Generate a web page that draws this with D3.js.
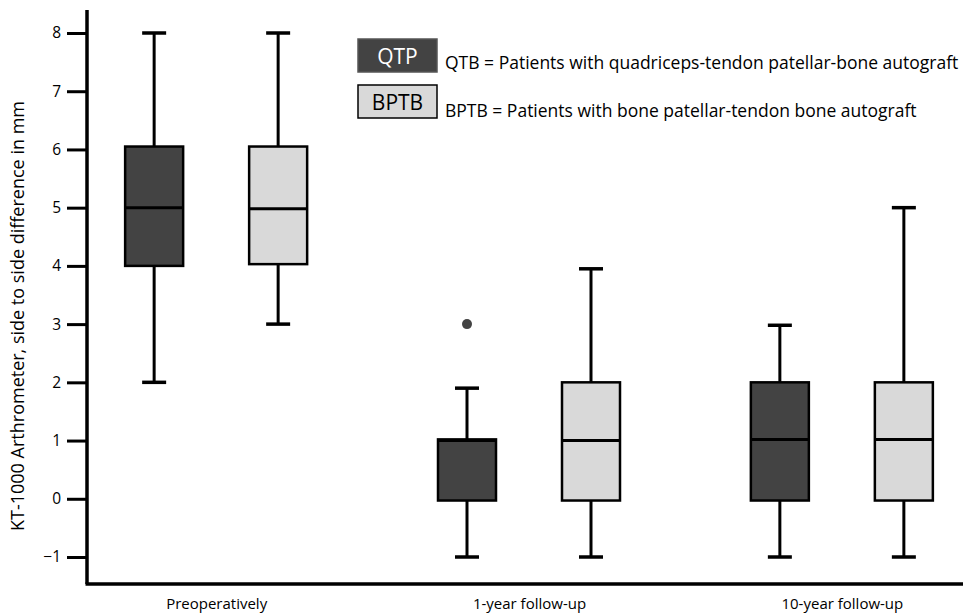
<!DOCTYPE html>
<html>
<head>
<meta charset="utf-8">
<script src="https://cdn.jsdelivr.net/npm/d3@7"></script>
<style>
  body { margin: 0; background: #fff; }
  text { font-family: "Open Sans", Lato, sans-serif; }
</style>
</head>
<body>
<div id="chart"></div>
<script>
// data
var timepoints = ["Preoperatively", "1-year follow-up", "10-year follow-up"];
var groups = ["QTP", "BPTB"];
var yTicks = [-1, 0, 1, 2, 3, 4, 5, 6, 7, 8];

// [min, q1, median, q3, max] per timepoint, per group
var qtpStats = [
  [2, 4, 5, 6.05, 8],
  [-1, -0.03, 1.0, 1.02, 1.9],
  [-1, -0.03, 1.02, 2, 2.98]
];
var bptbStats = [
  [3, 4.03, 4.98, 6.05, 8],
  [-1, -0.03, 1, 2, 3.95],
  [-1, -0.03, 1.02, 2, 5]
];
var qtpOutliers = [[], [3], []];
var bptbOutliers = [[], [], []];

var legendText = [
  "QTB = Patients with quadriceps-tendon patellar-bone autograft",
  "BPTB = Patients with bone patellar-tendon bone autograft"
];

var colors = { QTP: "#434343", BPTB: "#d9d9d9" };

var width = 963, height = 616;
var marginLeft = 87, plotTop = 10, plotBottom = 584;

var svg = d3.select("#chart")
  .append("svg")
  .attr("width", width)
  .attr("height", height);

var y = d3.scaleLinear()
  .domain([-1, 8])
  .range([557, 33]);

var x = d3.scalePoint()
  .domain(timepoints)
  .range([marginLeft + 4, width + 4])
  .padding(0.4);

var xInner = d3.scalePoint()
  .domain(groups)
  .range([-62, 62]);

var boxW = 58, capW = 24;

var boxes = [];
timepoints.forEach(function(t, i) {
  boxes.push({ t: t, g: "QTP", s: qtpStats[i], out: qtpOutliers[i] });
  boxes.push({ t: t, g: "BPTB", s: bptbStats[i], out: bptbOutliers[i] });
});

var bx = svg.selectAll("g.box")
  .data(boxes)
  .enter().append("g")
  .attr("class", "box")
  .attr("transform", function(d) { return "translate(" + (x(d.t) + xInner(d.g)) + ",0)"; });

// whiskers
bx.append("line")
  .attr("x1", 0).attr("x2", 0)
  .attr("y1", function(d) { return y(d.s[4]); })
  .attr("y2", function(d) { return y(d.s[3]); })
  .attr("stroke", "#000").attr("stroke-width", 3);
bx.append("line")
  .attr("x1", 0).attr("x2", 0)
  .attr("y1", function(d) { return y(d.s[1]); })
  .attr("y2", function(d) { return y(d.s[0]); })
  .attr("stroke", "#000").attr("stroke-width", 3);
// caps
bx.selectAll("line.cap")
  .data(function(d) { return [d.s[0], d.s[4]]; })
  .enter().append("line")
  .attr("class", "cap")
  .attr("x1", -capW / 2).attr("x2", capW / 2)
  .attr("y1", function(v) { return y(v); })
  .attr("y2", function(v) { return y(v); })
  .attr("stroke", "#000").attr("stroke-width", 3.5);

bx.append("rect")
  .attr("x", -boxW / 2)
  .attr("width", boxW)
  .attr("y", function(d) { return y(d.s[3]); })
  .attr("height", function(d) { return y(d.s[1]) - y(d.s[3]); })
  .attr("fill", function(d) { return colors[d.g]; })
  .attr("stroke", "#000")
  .attr("stroke-width", 2.5);

bx.append("line")
  .attr("x1", -boxW / 2).attr("x2", boxW / 2)
  .attr("y1", function(d) { return y(d.s[2]); })
  .attr("y2", function(d) { return y(d.s[2]); })
  .attr("stroke", "#000").attr("stroke-width", 3);

bx.selectAll("circle")
  .data(function(d) { return d.out; })
  .enter().append("circle")
  .attr("cx", 0)
  .attr("cy", function(v) { return y(v); })
  .attr("r", 5)
  .attr("fill", "#434343");

// axes
var yAxis = svg.append("g")
  .attr("transform", "translate(" + marginLeft + ",0)")
  .call(d3.axisLeft(y).tickValues(yTicks).tickSize(20).tickPadding(6).tickFormat(d3.format("d")));
yAxis.select(".domain").remove();
yAxis.selectAll(".tick line").attr("stroke", "#000").attr("stroke-width", 3);
yAxis.selectAll(".tick text").attr("font-size", 15.5).attr("fill", "#000");

svg.append("line")
  .attr("x1", marginLeft).attr("x2", marginLeft)
  .attr("y1", plotTop).attr("y2", plotBottom)
  .attr("stroke", "#000").attr("stroke-width", 3.5);
svg.append("line")
  .attr("x1", marginLeft - 1.5).attr("x2", width)
  .attr("y1", plotBottom).attr("y2", plotBottom)
  .attr("stroke", "#000").attr("stroke-width", 3.5);

var xAxis = svg.append("g")
  .attr("transform", "translate(0," + plotBottom + ")")
  .call(d3.axisBottom(x).tickSize(0).tickPadding(14));
xAxis.select(".domain").remove();
xAxis.selectAll(".tick text").attr("font-size", 15).attr("fill", "#000");

svg.append("text")
  .attr("transform", "translate(24,316) rotate(-90)")
  .attr("text-anchor", "middle")
  .attr("font-size", 18)
  .text("KT-1000 Arthrometer, side to side difference in mm");

// legend
var lg = svg.selectAll("g.legend")
  .data(groups)
  .enter().append("g")
  .attr("class", "legend")
  .attr("transform", function(d, i) { return "translate(358," + (39 + i * 46) + ")"; });
lg.append("rect")
  .attr("width", 79).attr("height", 33)
  .attr("fill", function(d) { return colors[d]; })
  .attr("stroke", function(d) { return d === "QTP" ? "#555" : "#000"; })
  .attr("stroke-width", 1.5);
lg.append("text")
  .attr("x", 39.5).attr("y", 25)
  .attr("text-anchor", "middle")
  .attr("font-size", 21)
  .attr("fill", function(d) { return d === "QTP" ? "#fff" : "#000"; })
  .text(function(d) { return d; });
lg.append("text")
  .attr("x", 87).attr("y", function(d, i) { return 30 + i * 2; })
  .attr("font-size", 17.5)
  .text(function(d, i) { return legendText[i]; });
</script>
</body>
</html>
